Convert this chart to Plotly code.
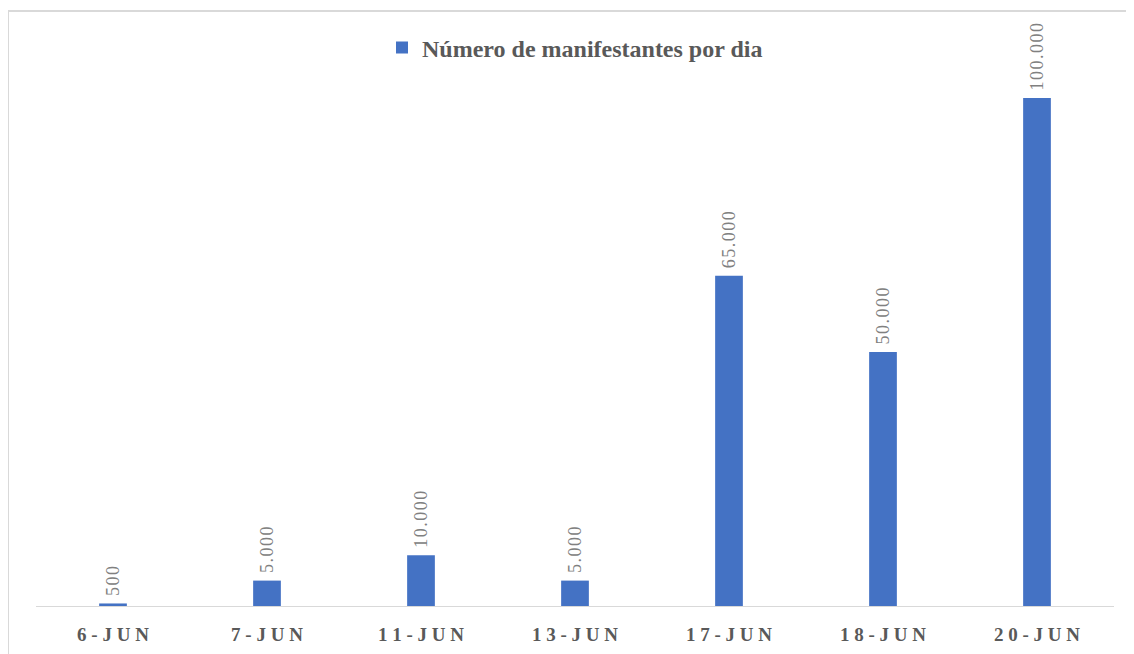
import plotly.graph_objects as go

categories = ["6-JUN", "7-JUN", "11-JUN", "13-JUN", "17-JUN", "18-JUN", "20-JUN"]
values = [500, 5000, 10000, 5000, 65000, 50000, 100000]
value_labels = ["500", "5.000", "10.000", "5.000", "65.000", "50.000", "100.000"]
series_name = "Número de manifestantes por dia"

def spaced(s, sep):
    return sep.join(list(s))

tick_text = [spaced(c, "\u2005") for c in categories]
label_text = ["\u2005" + spaced(v, "\u200a") for v in value_labels]

# page body has an 8px margin; work in screen coordinates and subtract it
OFF = 8
W, H = 1134 - OFF, 654 - OFF
L, R, T, B = 36 - OFF, 20, 30 - OFF, 48
pw, ph = W - L - R, H - T - B

fig = go.Figure()
fig.add_trace(go.Bar(
    x=categories, y=values, name=series_name,
    marker=dict(color="#4472C4", line=dict(width=0)),
    width=0.18,
    text=label_text, textposition="outside", textangle=-90,
    constraintext="none",
    textfont=dict(family="Liberation Serif", size=18, color="#808080"),
    cliponaxis=False,
    showlegend=True,
))

ymax = 100000 * ph / 508

def px_x(p):
    return (p - OFF - L) / pw
def px_y(p):
    return (H - B - (p - OFF)) / ph

fig.update_layout(
    width=W, height=H,
    margin=dict(l=L, r=R, t=T, b=B),
    plot_bgcolor="white", paper_bgcolor="white",
    xaxis=dict(
        tickmode="array", tickvals=categories, ticktext=tick_text,
        tickfont=dict(family="Liberation Serif", size=19, color="#595959", weight="bold"),
        ticklabelstandoff=11, automargin=False,
        showline=True, linecolor="#D9D9D9", linewidth=1,
        showgrid=False, ticks="", ticklen=0,
    ),
    yaxis=dict(range=[0, ymax], visible=False, showgrid=False, zeroline=False,
               automargin=False),
    legend=dict(
        orientation="h", x=0.5, xanchor="center", y=px_y(48), yanchor="middle",
        font=dict(family="Liberation Serif", size=24, color="#595959", weight="bold"),
        itemsizing="constant", bgcolor="rgba(0,0,0,0)",
    ),
    shapes=[dict(
        type="rect", xref="paper", yref="paper",
        x0=px_x(8), x1=px_x(1145), y0=px_y(665), y1=px_y(11),
        line=dict(color="#D9D9D9", width=2), fillcolor="rgba(0,0,0,0)", layer="below",
    )],
)

fig.write_html("out.html")
